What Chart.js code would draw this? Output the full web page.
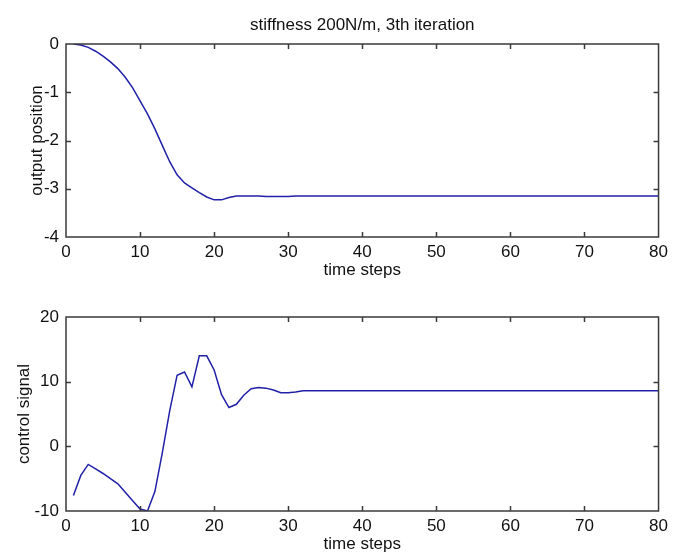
<!DOCTYPE html>
<html>
<head>
<meta charset="utf-8">
<script src="https://cdn.jsdelivr.net/npm/chart.js@4.4.0/dist/chart.umd.min.js"></script>
<style>
  html, body { margin: 0; padding: 0; background: #fff; }
  #arriba { position: absolute; left: 0; top: 0; width: 673px; height: 290px; }
  #abajo { position: absolute; left: 0; top: 290px; width: 673px; height: 268px; }
</style>
</head>
<body>
<div id="arriba"><canvas id="graficaPosicion"></canvas></div>
<div id="abajo"><canvas id="graficaControl"></canvas></div>
<script>
// pasos de tiempo (eje x)
const PASOS = [
  1, 2, 3, 4, 5, 6, 7, 8, 9, 10, 11, 12, 13, 14, 15, 16, 17, 18, 19, 20,
  21, 22, 23, 24, 25, 26, 27, 28, 29, 30, 31, 32, 33, 34, 35, 36, 37, 38, 39, 40,
  41, 42, 43, 44, 45, 46, 47, 48, 49, 50, 51, 52, 53, 54, 55, 56, 57, 58, 59, 60,
  61, 62, 63, 64, 65, 66, 67, 68, 69, 70, 71, 72, 73, 74, 75, 76, 77, 78, 79, 80
];

// posicion de salida
const POSICION = [
  0.00, -0.02, -0.07, -0.15, -0.25, -0.37, -0.51, -0.69, -0.91, -1.18,
  -1.45, -1.76, -2.10, -2.44, -2.71, -2.88, -2.98, -3.08, -3.17, -3.23,
  -3.23, -3.18, -3.15, -3.15, -3.15, -3.15, -3.16, -3.16, -3.16, -3.16,
  -3.15, -3.15, -3.15, -3.15, -3.15, -3.15, -3.15, -3.15, -3.15, -3.15,
  -3.15, -3.15, -3.15, -3.15, -3.15, -3.15, -3.15, -3.15, -3.15, -3.15,
  -3.15, -3.15, -3.15, -3.15, -3.15, -3.15, -3.15, -3.15, -3.15, -3.15,
  -3.15, -3.15, -3.15, -3.15, -3.15, -3.15, -3.15, -3.15, -3.15, -3.15,
  -3.15, -3.15, -3.15, -3.15, -3.15, -3.15, -3.15, -3.15, -3.15, -3.15
];

// senal de control
const CONTROL = [
  -7.6, -4.5, -2.8, -3.5, -4.2, -5.0, -5.8, -7.1, -8.4, -9.7,
  -10.0, -7.0, -1.0, 5.5, 11.0, 11.5, 9.2, 14.0, 14.0, 11.8,
  8.0, 6.0, 6.5, 7.9, 8.9, 9.1, 9.0, 8.7, 8.3, 8.3,
  8.4, 8.6, 8.6, 8.6, 8.6, 8.6, 8.6, 8.6, 8.6, 8.6,
  8.6, 8.6, 8.6, 8.6, 8.6, 8.6, 8.6, 8.6, 8.6, 8.6,
  8.6, 8.6, 8.6, 8.6, 8.6, 8.6, 8.6, 8.6, 8.6, 8.6,
  8.6, 8.6, 8.6, 8.6, 8.6, 8.6, 8.6, 8.6, 8.6, 8.6,
  8.6, 8.6, 8.6, 8.6, 8.6, 8.6, 8.6, 8.6, 8.6, 8.6
];

const TITULO = 'stiffness 200N/m, 3th iteration';
const FUENTE = { family: "'Liberation Sans', Arial, sans-serif", size: 17 };
const COLOR_LINEA = '#2020a8';
const COLOR_CAJA = '#3a3a3a';

// caja estilo matlab con marcas hacia dentro en los cuatro lados
const cajaMatlab = {
  id: 'cajaMatlab',
  afterDraw(chart) {
    const { ctx, chartArea: a, scales } = chart;
    const largo = 5;
    ctx.save();
    ctx.strokeStyle = COLOR_CAJA;
    ctx.lineWidth = 1.5;
    ctx.beginPath();
    scales.x.ticks.forEach(t => {
      const px = Math.round(scales.x.getPixelForValue(t.value)) + 0.5;
      if (px <= a.left + 1 || px >= a.right - 1) return;
      ctx.moveTo(px, a.bottom); ctx.lineTo(px, a.bottom - largo);
      ctx.moveTo(px, a.top); ctx.lineTo(px, a.top + largo);
    });
    scales.y.ticks.forEach(t => {
      const py = Math.round(scales.y.getPixelForValue(t.value)) + 0.5;
      if (py <= a.top + 1 || py >= a.bottom - 1) return;
      ctx.moveTo(a.left, py); ctx.lineTo(a.left + largo, py);
      ctx.moveTo(a.right, py); ctx.lineTo(a.right - largo, py);
    });
    ctx.stroke();
    ctx.strokeRect(a.left, a.top, a.right - a.left, a.bottom - a.top);
    ctx.restore();
  }
};

function crearGrafica(idCanvas, valores, cfg) {
  const ctx = document.getElementById(idCanvas).getContext('2d');
  return new Chart(ctx, {
    type: 'line',
    data: {
      datasets: [{
        data: PASOS.map((p, i) => ({ x: p, y: valores[i] })),
        borderColor: COLOR_LINEA,
        borderWidth: 1.5,
        pointRadius: 0,
        tension: 0,
        fill: false
      }]
    },
    options: {
      responsive: true,
      maintainAspectRatio: false,
      animation: false,
      layout: { padding: { top: cfg.arriba, right: 10, left: 0, bottom: 0 } },
      plugins: {
        legend: { display: false },
        tooltip: { enabled: false },
        title: cfg.titulo ? {
          display: true,
          text: cfg.titulo,
          fullSize: false,
          color: '#111',
          font: { ...FUENTE, weight: 'normal' },
          padding: { top: 15, bottom: 8.6 }
        } : { display: false }
      },
      scales: {
        x: {
          type: 'linear',
          min: 0, max: 80,
          grid: { display: false, drawTicks: false },
          border: { display: false },
          ticks: { stepSize: 10, color: '#111', font: FUENTE, padding: 5, maxRotation: 0 },
          title: { display: true, text: 'time steps', color: '#111', font: FUENTE, padding: { top: 0, bottom: cfg.pieX } },
          afterFit: s => { s.height = cfg.altoX; }
        },
        y: {
          min: cfg.min, max: cfg.max,
          grid: { display: false, drawTicks: false },
          border: { display: false },
          ticks: { stepSize: cfg.paso, color: '#111', font: FUENTE, padding: 7 },
          title: { display: true, text: cfg.etiquetaY, color: '#111', font: FUENTE, padding: { top: cfg.margenY, bottom: 0 } },
          afterFit: s => { s.width = 66; }
        }
      }
    },
    plugins: [cajaMatlab]
  });
}

crearGrafica('graficaPosicion', POSICION, {
  titulo: TITULO, arriba: 0, altoX: 53, pieX: 9,
  min: -4, max: 0, paso: 1, etiquetaY: 'output position', margenY: 27
});

crearGrafica('graficaControl', CONTROL, {
  titulo: null, arriba: 27, altoX: 47, pieX: 3,
  min: -10, max: 20, paso: 10, etiquetaY: 'control signal', margenY: 14
});
</script>
</body>
</html>
